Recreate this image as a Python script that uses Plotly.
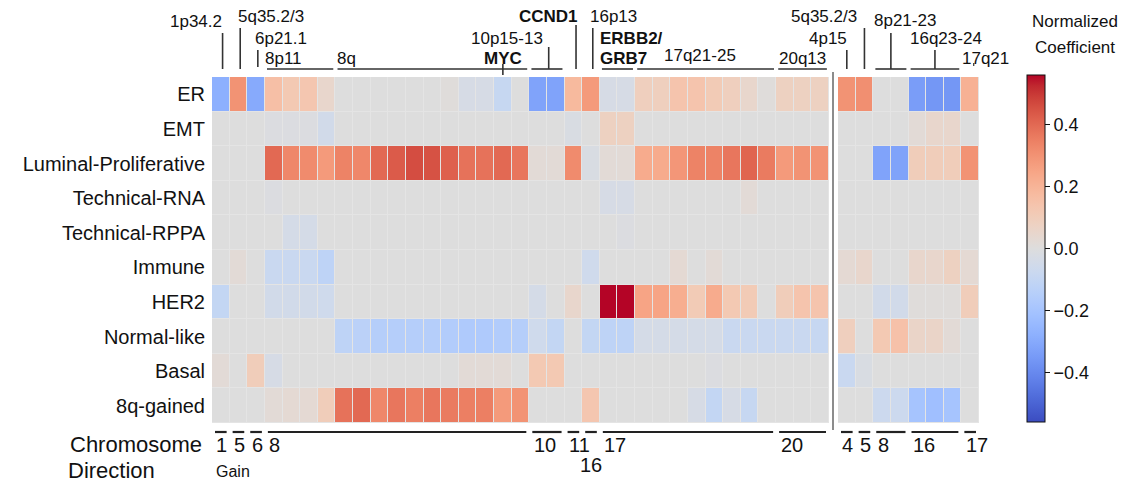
import plotly.graph_objects as go

# page body has an 8px margin: the figure is sized to fit the window from (8, 8)
OFF = 8
W, H = 1147 - OFF, 482 - OFF

ROWS = ["ER", "EMT", "Luminal-Proliferative", "Technical-RNA", "Technical-RPPA",
        "Immune", "HER2", "Normal-like", "Basal", "8q-gained"]

GAIN_CHROMS = ["1", "5", "6", "8", "10", "11", "16", "17", "20"]
GAIN_SPANS = [1, 1, 1, 15, 2, 1, 1, 10, 3]
LOSS_CHROMS = ["4", "5", "8", "16", "17"]
LOSS_SPANS = [1, 1, 2, 3, 1]

# ---- Gain columns (35) ----
gain_er = [-0.28, 0.30, -0.30, 0.16, 0.12, 0.13, 0.05, 0.0, 0.0, 0.0, 0.0, 0.0, 0.0, 0.01, -0.03, -0.03, -0.09, 0.0,
           -0.32, -0.32, 0.18, 0.28, -0.03, -0.03, 0.09, 0.09, 0.14, 0.14, 0.11, 0.09, 0.05, 0.01, 0.08, 0.08, 0.08]
gain_emt = [0.0, 0.0, 0.0, -0.01, -0.01, -0.01, -0.05, 0.0, 0.0, 0.0, 0.0, 0.0, 0.0, 0.0, 0.0, 0.0, 0.0, 0.0,
            0.0, 0.0, -0.02, 0.0, 0.08, 0.08, 0.0, 0.0, 0.0, 0.0, 0.0, 0.0, 0.0, 0.0, 0.0, 0.0, 0.0]
gain_lum = [0.0, 0.0, 0.0, 0.40, 0.33, 0.32, 0.28, 0.34, 0.33, 0.40, 0.43, 0.46, 0.45, 0.42, 0.38, 0.38, 0.40, 0.37,
            0.02, 0.02, 0.32, -0.02, 0.02, 0.02, 0.23, 0.23, 0.29, 0.34, 0.34, 0.37, 0.41, 0.36, 0.28, 0.30, 0.30]
gain_rna = [0.0, 0.0, 0.0, -0.01, 0.0, 0.0, 0.0, 0.0, 0.0, 0.0, 0.0, 0.0, 0.0, 0.0, 0.0, 0.0, 0.0, 0.0,
            0.0, 0.0, 0.0, 0.0, -0.03, -0.03, 0.0, 0.0, 0.0, 0.0, 0.0, 0.0, 0.02, 0.0, 0.0, 0.0, 0.0]
gain_rppa = [0.0, 0.0, 0.0, 0.0, -0.04, -0.04, 0.0, 0.0, 0.0, 0.0, 0.0, 0.0, 0.0, 0.0, 0.0, 0.0, 0.0, 0.0,
             0.0, 0.0, 0.0, 0.0, 0.0, -0.01, 0.0, 0.0, 0.0, 0.0, 0.0, 0.0, 0.0, 0.0, 0.0, 0.0, 0.0]
gain_imm = [0.0, 0.02, 0.0, -0.08, -0.08, -0.08, -0.12, 0.0, 0.0, 0.0, 0.0, 0.0, 0.0, 0.0, 0.0, 0.0, 0.0, 0.0,
            0.0, 0.0, 0.0, -0.06, 0.0, 0.0, 0.0, 0.0, 0.03, 0.0, 0.02, 0.0, 0.0, 0.0, 0.0, 0.0, 0.0]
gain_her2 = [-0.10, 0.0, 0.0, -0.05, -0.05, -0.05, -0.06, 0.0, 0.0, 0.0, 0.0, 0.0, 0.0, 0.0, 0.0, 0.0, 0.0, 0.0,
             -0.04, 0.0, 0.05, 0.0, 0.56, 0.56, 0.25, 0.25, 0.22, 0.11, 0.23, 0.12, 0.11, 0.0, 0.10, 0.14, 0.14]
gain_norm = [0.0, 0.0, 0.0, 0.0, 0.0, 0.0, 0.0, -0.12, -0.13, -0.15, -0.15, -0.15, -0.15, -0.16, -0.17, -0.17, -0.16, -0.15,
             -0.06, -0.10, 0.0, -0.10, -0.12, -0.12, -0.04, -0.04, -0.04, -0.04, -0.04, -0.08, -0.08, -0.08, -0.08, -0.08, -0.09]
gain_basal = [0.02, 0.0, 0.10, -0.03, 0.0, 0.0, 0.0, 0.0, 0.0, 0.0, 0.0, 0.0, 0.0, 0.0, 0.02, 0.02, 0.02, 0.0,
              0.12, 0.12, 0.0, 0.0, 0.0, 0.0, 0.0, 0.0, 0.0, 0.0, -0.01, 0.0, 0.0, 0.0, 0.0, 0.0, 0.0]
gain_8q = [0.0, 0.0, 0.0, 0.02, 0.03, 0.03, 0.10, 0.38, 0.40, 0.33, 0.37, 0.35, 0.37, 0.36, 0.35, 0.35, 0.28, 0.30,
           0.0, 0.0, 0.0, 0.13, 0.0, 0.0, 0.0, 0.0, 0.0, -0.03, -0.10, -0.03, -0.09, 0.0, 0.0, 0.0, 0.0]

# ---- Loss columns (8) ----
loss_er = [0.30, 0.31, 0.0, 0.0, -0.34, -0.36, -0.36, 0.21]
loss_emt = [0.0, 0.0, 0.0, 0.0, 0.02, 0.05, 0.05, 0.0]
loss_lum = [0.0, 0.0, -0.32, -0.32, 0.10, 0.10, 0.10, 0.30]
loss_rna = [0.0, 0.0, 0.0, 0.0, 0.0, 0.0, 0.0, 0.0]
loss_rppa = [0.0, 0.0, 0.0, 0.0, 0.0, 0.0, 0.0, 0.0]
loss_imm = [0.03, 0.05, 0.0, 0.0, 0.05, 0.05, 0.08, 0.03]
loss_her2 = [0.0, 0.0, -0.05, -0.05, 0.01, 0.01, 0.01, 0.10]
loss_norm = [0.09, 0.0, 0.12, 0.15, 0.06, 0.06, 0.02, 0.0]
loss_basal = [-0.08, -0.02, 0.0, 0.0, 0.0, 0.0, 0.0, 0.0]
loss_8q = [0.0, 0.0, -0.07, -0.07, -0.20, -0.22, -0.20, 0.0]

gain_z = [gain_er, gain_emt, gain_lum, gain_rna, gain_rppa, gain_imm, gain_her2, gain_norm, gain_basal, gain_8q]
loss_z = [loss_er, loss_emt, loss_lum, loss_rna, loss_rppa, loss_imm, loss_her2, loss_norm, loss_basal, loss_8q]

COOLWARM = [
    (59, 76, 192), (68, 90, 204), (77, 104, 215), (87, 117, 225), (98, 130, 234), (108, 142, 241),
    (119, 154, 247), (130, 165, 251), (141, 176, 254), (152, 185, 255), (163, 194, 255), (174, 201, 253),
    (184, 208, 249), (194, 213, 244), (204, 217, 238), (213, 219, 230), (221, 221, 221), (229, 216, 209),
    (236, 211, 197), (241, 204, 184), (245, 196, 173), (247, 187, 160), (247, 177, 148), (247, 166, 135),
    (244, 154, 123), (241, 141, 111), (236, 127, 99), (229, 112, 88), (222, 96, 77), (213, 80, 66),
    (203, 62, 56), (192, 40, 47), (180, 4, 38)]
n = len(COOLWARM) - 1
colorscale = [[i / n, "rgb(%d,%d,%d)" % c] for i, c in enumerate(COOLWARM)]

FONT = "Arial, 'Liberation Sans', sans-serif"
LINEC = "#333333"


def py(v):  # window pixel y -> paper
    return 1 - (v - OFF) / H


def px(v):  # window pixel x -> paper
    return (v - OFF) / W


GX0, GX1 = 212, 829
LX0, LX1 = 838, 979
YT, YB = 77, 423

fig = go.Figure()
fig.add_trace(go.Heatmap(z=gain_z, x=list(range(len(gain_er))), y=list(range(len(ROWS))),
                         coloraxis="coloraxis", xgap=1, ygap=1, xaxis="x", yaxis="y",
                         hovertemplate="%{z}<extra></extra>"))
fig.add_trace(go.Heatmap(z=loss_z, x=list(range(len(loss_er))), y=list(range(len(ROWS))),
                         coloraxis="coloraxis", xgap=1, ygap=1, xaxis="x2", yaxis="y2",
                         hovertemplate="%{z}<extra></extra>"))

shapes = []
ann = []

def line(xref, x0, x1, y0, y1, width=1.6, color=LINEC, dash=None):
    d = dict(type="line", xref=xref, yref="paper", x0=x0, x1=x1, y0=py(y0), y1=py(y1),
             line=dict(color=color, width=width))
    if dash:
        d["line"]["dash"] = dash
    shapes.append(d)

def text(xref, x, y, s, size=17, anchor="left", bold=False):
    ann.append(dict(xref=xref, yref="paper", x=x, y=py(y), text=("<b>%s</b>" % s) if bold else s,
                    showarrow=False, xanchor=anchor, yanchor="middle",
                    font=dict(family=FONT, size=size, color="#111111")))

# ---- top annotations (gain) ----
BR_Y = 69
ins = 0.12
line("x", 0.1, 0.1, 33, BR_Y); text("x", 0.2, 21, "1p34.2", anchor="right")
line("x", 1.1, 1.1, 28, BR_Y); text("x", 0.85, 16, "5q35.2/3", anchor="left")
line("x", 2.1, 2.1, 50, 67); text("x", 1.85, 38, "6p21.1", anchor="left")
# 8p11
line("x", 3 - 0.5 + ins, 6 + 0.5 - ins, BR_Y, BR_Y); text("x", 3 - 0.6, 58, "8p11")
# 8q + MYC
line("x", 7 - 0.5 + ins, 17 + 0.5 - ins, BR_Y, BR_Y); text("x", 7 - 0.55, 58, "8q")
line("x", 16, 16, 64, 75); text("x", 16, 58, "MYC", anchor="center", bold=True)
# 10p15-13
line("x", 18 - 0.5 + ins, 19 + 0.5 - ins, BR_Y, BR_Y); line("x", 18.6, 18.6, 47, BR_Y)
text("x", 18.4, 38, "10p15-13", anchor="right")
# CCND1
line("x", 20.15, 20.15, 25, BR_Y); text("x", 20.4, 16, "CCND1", anchor="right", bold=True)
# 16p13
line("x", 21.1, 21.1, 28, BR_Y); text("x", 20.85, 16, "16p13", anchor="left")
# ERBB2/GRB7
line("x", 22 - 0.5 + ins, 23 + 0.5 - ins, BR_Y, BR_Y)
text("x", 22 - 0.6, 38, "ERBB2/", bold=True); text("x", 22 - 0.6, 58, "GRB7", bold=True)
# 17q21-25
line("x", 24 - 0.5 + ins, 31 + 0.5 - ins, BR_Y, BR_Y); text("x", 27.2, 55, "17q21-25", anchor="center")
# 20q13
line("x", 32 - 0.5 + ins, 34 + 0.5 - ins, BR_Y, BR_Y); text("x", 33, 58, "20q13", anchor="center")

# ---- top annotations (loss) ----
line("x2", 0, 0, 50, BR_Y); text("x2", 0.1, 38, "4p15", anchor="right")
line("x2", 1, 1, 28, BR_Y); text("x2", 0.7, 16, "5q35.2/3", anchor="right")
line("x2", 2 - 0.5 + ins, 3 + 0.5 - ins, BR_Y, BR_Y); line("x2", 2.5, 2.5, 33, BR_Y)
text("x2", 2 - 0.55, 20, "8p21-23")
line("x2", 4 - 0.5 + ins, 6 + 0.5 - ins, BR_Y, BR_Y); line("x2", 5, 5, 50, BR_Y)
text("x2", 4 - 0.55, 38, "16q23-24")
line("x2", 7.2, 7.2, 63, 68, width=1.2, dash="dot"); text("x2", 7 - 0.55, 58, "17q21")

# ---- bottom chromosome bars ----
CH_Y = 432
def chrom_row(xref, names, spans):
    start = 0
    for name, sp in zip(names, spans):
        a, b = start - 0.5 + 0.17, start + sp - 0.5 - 0.17
        line(xref, a, b, CH_Y, CH_Y, width=2.2, color="#222222")
        if name == "16" and xref == "x":
            text(xref, start, 465, name, size=20, anchor="center")
        else:
            text(xref, a - 0.03, 445, name, size=20, anchor="left")
        start += sp

chrom_row("x", GAIN_CHROMS, GAIN_SPANS)
chrom_row("x2", LOSS_CHROMS, LOSS_SPANS)
text("x", -0.4, 471, "Gain", size=16)
text("x2", -0.55, 471, "Loss", size=16)

ann.append(dict(xref="paper", yref="paper", x=px(204), y=py(444), text="Chromosome", showarrow=False,
                xanchor="right", yanchor="middle", font=dict(family=FONT, size=22, color="#111111")))
ann.append(dict(xref="paper", yref="paper", x=px(66), y=py(470), text="Direction", showarrow=False,
                xanchor="left", yanchor="middle", font=dict(family=FONT, size=22, color="#111111")))

# colorbar title
ann.append(dict(xref="paper", yref="paper", x=px(1075), y=py(21), text="Normalized", showarrow=False,
                xanchor="center", yanchor="middle", font=dict(family=FONT, size=17, color="#111111")))
ann.append(dict(xref="paper", yref="paper", x=px(1075), y=py(47), text="Coefficient", showarrow=False,
                xanchor="center", yanchor="middle", font=dict(family=FONT, size=17, color="#111111")))

# separator between gain and loss
shapes.append(dict(type="line", xref="paper", yref="paper", x0=px(833), x1=px(833), y0=py(72), y1=py(430),
                   line=dict(color="#666666", width=1.5)))

fig.update_layout(
    width=W, height=H, margin=dict(l=0, r=0, t=0, b=0),
    paper_bgcolor="white", plot_bgcolor="#e4e4e4",
    font=dict(family=FONT, color="#111111"),
    xaxis=dict(domain=[px(GX0), px(GX1)], range=[-0.5, len(gain_er) - 0.5], visible=False, fixedrange=True),
    yaxis=dict(domain=[py(YB), py(YT)], range=[len(ROWS) - 0.5, -0.5], tickmode="array",
               tickvals=list(range(len(ROWS))), ticktext=ROWS, ticks="", showgrid=False, zeroline=False,
               showline=False, tickfont=dict(size=20, family=FONT, color="#111111"), ticklabelstandoff=6),
    xaxis2=dict(domain=[px(LX0), px(LX1)], range=[-0.5, len(loss_er) - 0.5], visible=False, anchor="y2"),
    yaxis2=dict(domain=[py(YB), py(YT)], range=[len(ROWS) - 0.5, -0.5], visible=False, anchor="x2"),
    coloraxis=dict(colorscale=colorscale, cmin=-0.56, cmax=0.56,
                   colorbar=dict(x=px(1027), xanchor="left", y=py(248.5), yanchor="middle",
                                 thickness=18, thicknessmode="pixels", len=347, lenmode="pixels",
                                 outlinecolor="#111111", outlinewidth=1, ticks="outside", ticklen=5,
                                 tickcolor="#111111", tickmode="array",
                                 tickvals=[-0.4, -0.2, 0.0, 0.2, 0.4],
                                 ticktext=["\u22120.4", "\u22120.2", "0.0", "0.2", "0.4"],
                                 tickfont=dict(size=18, family=FONT, color="#111111"), xpad=0, ypad=0)),
    shapes=shapes, annotations=ann, showlegend=False,
)

fig.write_html("out.html")
